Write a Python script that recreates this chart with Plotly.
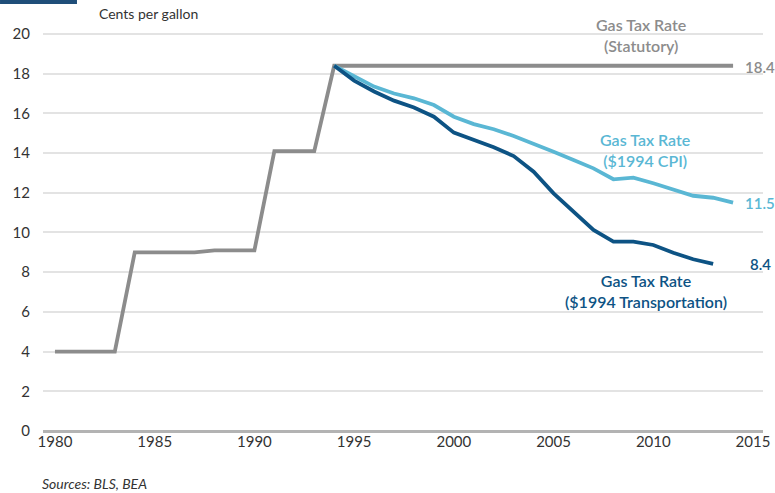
import plotly.graph_objects as go

# ── Data ────────────────────────────────────────────────────────────────────
years_stat = list(range(1980, 2015))
statutory = [4.0, 4.0, 4.0, 4.0, 9.0, 9.0, 9.0, 9.0, 9.1, 9.1, 9.1,
             14.1, 14.1, 14.1] + [18.4] * 21

years_cpi = list(range(1994, 2015))
cpi_1994 = [18.4, 17.85, 17.35, 17.0, 16.76, 16.42, 15.83, 15.46, 15.2,
            14.86, 14.49, 14.07, 13.65, 13.23, 12.68, 12.76, 12.48, 12.14,
            11.85, 11.75, 11.5]

years_trans = list(range(1994, 2014))
trans_1994 = [18.4, 17.65, 17.1, 16.64, 16.3, 15.83, 15.03, 14.66, 14.29,
              13.85, 13.06, 11.97, 11.05, 10.13, 9.54, 9.54, 9.37, 8.98,
              8.65, 8.42]

y_ticks = list(range(0, 21, 2))
x_ticks = list(range(1980, 2016, 5))

# ── Style ───────────────────────────────────────────────────────────────────
GRAY = "#8c8c8c"
LIGHT = "#5ab7d4"
DARK = "#0d5384"
TEXT = "#333333"
FONT = "Lato, Carlito, sans-serif"

fig = go.Figure()
fig.add_trace(go.Scatter(x=years_stat, y=statutory, mode="lines",
                         line=dict(color=GRAY, width=3.8)))
fig.add_trace(go.Scatter(x=years_cpi, y=cpi_1994, mode="lines",
                         line=dict(color=LIGHT, width=3.8)))
fig.add_trace(go.Scatter(x=years_trans, y=trans_1994, mode="lines",
                         line=dict(color=DARK, width=3.8)))

# series labels
labels = [
    (2009.4, 19.95, "Gas Tax Rate<br>(Statutory)", GRAY),
    (2009.6, 14.15, "Gas Tax Rate<br>($1994 CPI)", LIGHT),
    (2009.65, 7.05, "Gas Tax Rate<br>($1994 Transportation)", DARK),
]
for x, y, txt, col in labels:
    fig.add_annotation(x=x, y=y, text=txt, showarrow=False,
                       font=dict(family=FONT, size=16, color=col, weight=600),
                       align="center")

# end values (placed just right of the plot, in paper x)
ends = [
    (statutory[-1], GRAY, -0.05),
    (cpi_1994[-1], LIGHT, 0),
    (trans_1994[-1], DARK, 0),
]
for val, col, dy in ends:
    fig.add_annotation(xref="paper", x=0.996, y=val + dy, text=f"{val:.1f}",
                       showarrow=False, xanchor="center",
                       font=dict(family=FONT, size=15, color=col, weight=600))

# top-left header bar and unit label
fig.add_shape(type="rect", xref="paper", yref="paper",
              x0=-0.0597, x1=0.0472, y0=1.0648, y1=1.08,
              fillcolor="#1f4e79", line_width=0, layer="above")
fig.add_annotation(xref="paper", yref="paper", x=0.075, y=1.04,
                   text="Cents per gallon", showarrow=False,
                   xanchor="left", yanchor="middle",
                   font=dict(family=FONT, size=14, color=TEXT))
fig.add_annotation(xref="paper", yref="paper", x=-0.004, y=-0.13,
                   text="<i>Sources: BLS, BEA</i>", showarrow=False,
                   xanchor="left", yanchor="middle",
                   font=dict(family=FONT, size=14, color=TEXT))

fig.update_layout(
    width=775, height=493,
    paper_bgcolor="white", plot_bgcolor="white",
    showlegend=False,
    margin=dict(l=43, r=12, t=30, b=62),
    font=dict(family=FONT, size=15, color=TEXT),
    xaxis=dict(range=[1979.4, 2015.5], tickvals=x_ticks, showgrid=False,
               zeroline=False, showline=False, ticks="", automargin=False,
               tickfont=dict(size=15, color=TEXT)),
    yaxis=dict(range=[0, 20.2], tickvals=y_ticks, showgrid=True,
               gridcolor="#e3e3e3", gridwidth=1.5, zeroline=True,
               zerolinecolor="#b3b3b3", zerolinewidth=2.5, showline=False,
               ticks="", ticklabelstandoff=12, automargin=False,
               tickfont=dict(size=15, color=TEXT)),
)

# drop the browser's default body margin so the chart sits at the window origin
fig.write_html("out.html", config={"displayModeBar": False},
               post_script="document.body.style.margin='0';")
